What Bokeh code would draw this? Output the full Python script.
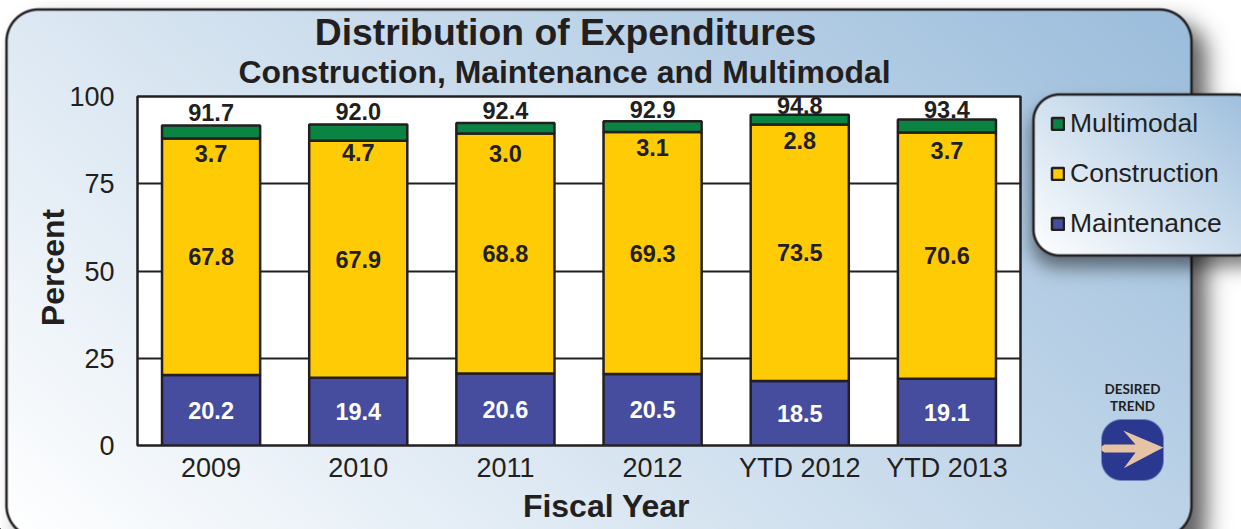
from bokeh.embed import file_html
from bokeh.resources import INLINE
from bokeh.plotting import figure
from bokeh.core.properties import value
from bokeh.models import (ColumnDataSource, FactorRange, Range1d, FixedTicker, Legend, LegendItem)
import numpy as np
import math

# ---- data ----
years = ["2009", "2010", "2011", "2012", "YTD 2012", "YTD 2013"]
maintenance = [20.2, 19.4, 20.6, 20.5, 18.5, 19.1]
construction = [67.8, 67.9, 68.8, 69.3, 73.5, 70.6]
multimodal = [3.7, 4.7, 3.0, 3.1, 2.8, 3.7]
totals = [91.7, 92.0, 92.4, 92.9, 94.8, 93.4]
tick_values = [0, 25, 50, 75, 100]

FONT = "Liberation Sans"
INK = "#231f20"
BLUE, YELLOW, GREEN = "#464c9e", "#ffcb05", "#0b8343"

W, H = 1241, 529
FL, FR, FT, FB = 137, 1020, 96, 445   # plot frame in page pixels

# ---------- backdrop figure: one page pixel = one data unit ----------
bg = figure(width=W, height=H, x_range=Range1d(0, W), y_range=Range1d(0, H), x_axis_type=None, y_axis_type=None,
            output_backend="svg", toolbar_location=None, min_border=0, outline_line_color=None,
            border_fill_color="white", background_fill_color="white")
bg.grid.visible = False

Y, X = np.mgrid[0:H, 0:W] + 0.5


def sdf(x0, y0, x1, y1, r):
    qx = np.abs(X - (x0 + x1) / 2) - (x1 - x0) / 2 + r
    qy = np.abs(Y - (y0 + y1) / 2) - (y1 - y0) / 2 + r
    return np.hypot(np.maximum(qx, 0), np.maximum(qy, 0)) + np.minimum(np.maximum(qx, qy), 0) - r


def blur(a, sigma):
    k = np.exp(-0.5 * (np.arange(-3 * sigma, 3 * sigma + 1) / sigma) ** 2)
    k /= k.sum()
    pad = len(k)
    b = np.pad(a, pad, mode="edge")
    b = np.apply_along_axis(lambda m: np.convolve(m, k, mode="same"), 0, b)
    b = np.apply_along_axis(lambda m: np.convolve(m, k, mode="same"), 1, b)
    return b[pad:-pad, pad:-pad]


def over(img, color, alpha):
    return img * (1 - alpha[..., None]) + np.array(color, float) * alpha[..., None]


def ramp(box, ax, ay, hi):
    x0, y0, x1, y1 = box
    t = np.clip(ax * (X - x0) / (x1 - x0) + ay * (y1 - Y) / (y1 - y0), 0, 1)[..., None]
    return 255 + (np.array(hi, float) - 255) * t


def card(img, box, r, grad, shadow_off, sigma, peak):
    d = sdf(*box, r)
    sd = sdf(box[0] + shadow_off[0], box[1] + shadow_off[1], box[2] + shadow_off[0], box[3] + shadow_off[1], r)
    img = over(img, (0, 0, 0), blur(np.clip(0.5 - sd, 0, 1), sigma) * peak)
    fill = ramp(box, *grad)
    m = np.clip(0.5 - d, 0, 1)[..., None]
    img = img * (1 - m) + fill * m
    return over(img, (0x23, 0x1f, 0x20), np.clip(1.75 - np.abs(d), 0, 1))


img = np.full((H, W, 3), 255.0)
img = card(img, (6, 9, 1191, 537), 32, (0.66, 0.34, (0x9a, 0xbc, 0xdb)), (15, 13), 11, 0.62)
img = card(img, (1033, 94, 1262, 255), 26, (0.55, 0.45, (0x9a, 0xbc, 0xdb)), (-2, 12), 9, 0.5)
m = np.clip(0.5 - sdf(1101, 419, 1163, 480, 20), 0, 1)
img = over(img, (0x2b, 0x38, 0x8f), m)
rgba = np.dstack([np.clip(img, 0, 255).round().astype(np.uint8), np.full((H, W), 255, np.uint8)])[::-1]
bg.image_rgba(image=[rgba.view(np.uint32).reshape(H, W)], x=0, y=0, dw=W, dh=H)


def py(v):
    return H - v


arrow_x = [1104, 1135, 1122.7, 1162.8, 1123.3, 1135, 1104, 1101, 1101]
arrow_y = [444, 444, 430, 447, 467.7, 452, 452, 450, 446]
bg.patch(arrow_x, [py(v) for v in arrow_y], fill_color="#e6c3a5", line_color=None)


def label(txt, x, y, size, font=FONT, angle=0):
    bg.text(x=[x], y=[py(y)], text=[txt], text_font=value(font), text_font_size=size, text_font_style="bold",
            text_color=INK, text_align="center", text_baseline="middle", angle=angle)


label("Distribution of Expenditures", 565, 31, "37.3px")
label("Construction, Maintenance and Multimodal", 564, 71, "31.9px")
label("Fiscal Year", 606, 505, "32px")
label("Percent", 52, 267, "32px", angle=math.pi / 2)
label("DESIRED", 1132, 388, "13.5px", "Lato")
label("TREND", 1132, 405, "13.5px", "Lato")

# legend keys: one renderer per series, its single bar lies far off the visible range
keys = {name: bg.vbar(x=[-500], bottom=[-500], top=[-499], width=1, fill_color=col, line_color=INK, line_width=2.5)
        for name, col in (("Multimodal", GREEN), ("Construction", YELLOW), ("Maintenance", BLUE))}
legend = Legend(items=[LegendItem(label=n, renderers=[r]) for n, r in keys.items()],
                location=(1050, 290), orientation="vertical", padding=0, margin=0, spacing=19,
                glyph_width=15, glyph_height=15, label_standoff=5, label_height=30,
                label_text_font=FONT, label_text_font_size="26.5px", label_text_color=INK,
                background_fill_alpha=0, border_line_alpha=0)
bg.add_layout(legend, "center")

# ---------- chart figure on top, transparent outside its frame ----------
p = figure(width=W, height=H, x_range=FactorRange(*years, factor_padding=0, range_padding=0),
           y_range=Range1d(0, 100), output_backend="svg", toolbar_location=None,
           min_border_left=FL, min_border_right=W - FR, min_border_top=FT, min_border_bottom=H - FB,
           border_fill_alpha=0, background_fill_color="white",
           outline_line_color=INK, outline_line_width=2.5, margin=(-H, 0, 0, 0))

src = ColumnDataSource(dict(
    year=years, m=maintenance, c=construction, t=multimodal,
    m_mid=[v / 2 for v in maintenance],
    c_mid=[a + b / 2 for a, b in zip(maintenance, construction)],
    c_top=[a + b for a, b in zip(maintenance, construction)],
    top=totals,
    m_lab=[f"{v:.1f}" for v in maintenance],
    c_lab=[f"{v:.1f}" for v in construction],
    t_lab=[f"{v:.1f}" for v in multimodal],
    top_lab=[f"{v:.1f}" for v in totals],
    t_off=[15, 12, 20, 15.5, 16, 18],
    top_off=[-13, -13, -12.5, -12, -9, -10],
))

p.vbar_stack(["m", "c", "t"], x="year", width=98 / 147, source=src,
             fill_color=[BLUE, YELLOW, GREEN], line_color=INK, line_width=2.5)

LBL = dict(source=src, x="year", text_font=value(FONT), text_font_style="bold", text_font_size="23.5px",
           text_align="center", text_baseline="middle")
p.text(y="m_mid", text="m_lab", text_color="white", **LBL)
p.text(y="c_mid", text="c_lab", text_color=INK, **LBL)
p.text(y="c_top", text="t_lab", text_color=INK, y_offset="t_off", **LBL)
p.text(y="top", text="top_lab", text_color=INK, y_offset="top_off", **LBL)

p.xgrid.visible = False
p.ygrid.ticker = FixedTicker(ticks=tick_values)
p.ygrid.grid_line_color = INK
p.ygrid.grid_line_width = 2
p.yaxis.ticker = FixedTicker(ticks=tick_values)
for ax in (p.xaxis[0], p.yaxis[0]):
    ax.axis_line_color = None
    ax.major_tick_line_color = None
    ax.minor_tick_line_color = None
    ax.major_label_text_font = FONT
    ax.major_label_text_font_size = "27px"
    ax.major_label_text_color = INK
p.yaxis.major_label_standoff = 17
p.xaxis.major_label_standoff = 1

open("out.html", "w").write(file_html((bg, p), INLINE))
